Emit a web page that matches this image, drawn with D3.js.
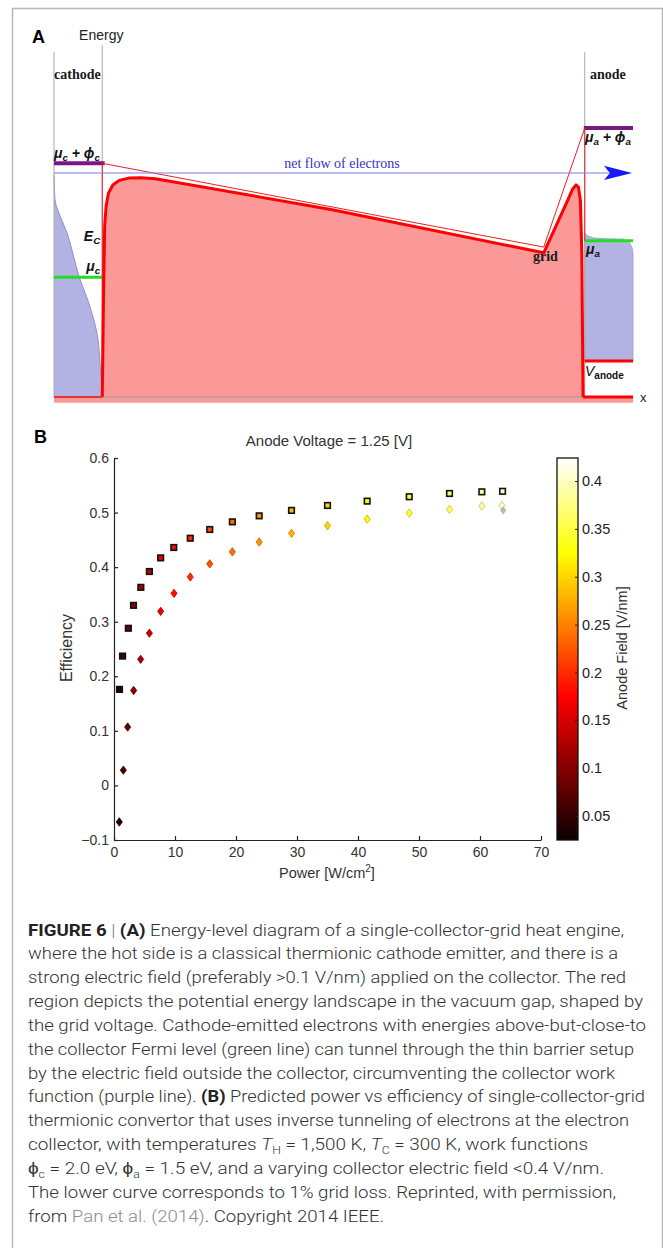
<!DOCTYPE html>
<html>
<head>
<meta charset="utf-8">
<script src="https://cdn.jsdelivr.net/npm/d3@7"></script>
<style>
body { margin: 0; background: #fff; }
svg { display: block; }
</style>
</head>
<body>
<svg width="663" height="1248"></svg>
<script>
// ---------- panel A: energy diagram (x in nm, E in eV) ----------
let barrierX = [0, 0.03, 0.05, 0.08, 0.13, 0.22, 0.35, 0.55, 0.8, 1.1, 4.74, 9.15, 9.65, 9.75, 9.82, 9.87, 9.91, 9.94, 9.965]
let barrierE = [0, 2.0, 3.0, 3.35, 3.58, 3.72, 3.8, 3.84, 3.845, 3.83, 3.29, 2.53, 3.46, 3.65, 3.72, 3.68, 3.45, 2.5, 0]

let fermiE = [3.89, 3.46, 3.19, 2.88, 2.49, 2.11, 1.70, 1.12, 0.53, 0]
let fermiF = [0, 0.02, 0.12, 0.27, 0.40, 0.52, 0.70, 0.89, 0.96, 1.0]

let anodeX = [10, 10, 10.05, 10.19, 10.5, 10.81, 10.93, 10.98, 11, 11]
let anodeE = [0.63, 2.88, 2.83, 2.79, 2.775, 2.77, 2.70, 2.62, 2.52, 0.63]

let muC = 2.1, phiC = 2.0
let muA = 2.74, phiA = 1.98
let vAnode = 0.63
let flowE = 3.93
let gridX = 9.15, gridE = 2.63

let surfaceX = [-1, 0, 10]
let surfaceTop = [6.05, 6.17, 6.05]

// ---------- panel B: efficiency vs power ----------
let fields = [0.04, 0.06, 0.08, 0.10, 0.12, 0.14, 0.16, 0.18, 0.20, 0.22, 0.24, 0.26, 0.28, 0.30, 0.32, 0.34, 0.36, 0.38, 0.40]
let powerSq = [0.9, 1.4, 2.35, 3.2, 4.4, 5.8, 7.65, 9.8, 12.5, 15.7, 19.4, 23.8, 29.1, 35.0, 41.5, 48.4, 55.0, 60.3, 63.7]
let effSq = [0.176, 0.237, 0.288, 0.330, 0.363, 0.392, 0.417, 0.436, 0.453, 0.469, 0.483, 0.494, 0.504, 0.513, 0.521, 0.529, 0.535, 0.538, 0.539]
let powerDi = [0.87, 1.53, 2.24, 3.22, 4.37, 5.8, 7.65, 9.84, 12.5, 15.7, 19.4, 23.8, 29.1, 35.0, 41.5, 48.4, 55.0, 60.3, 63.6]
let effDi = [-0.067, 0.028, 0.107, 0.174, 0.231, 0.279, 0.319, 0.352, 0.382, 0.406, 0.428, 0.446, 0.462, 0.476, 0.488, 0.499, 0.506, 0.512, 0.513]
let ghostPower = [63.8], ghostEff = [0.504]

let xTicks = [0, 10, 20, 30, 40, 50, 60, 70]
let yTicks = [-0.1, 0, 0.1, 0.2, 0.3, 0.4, 0.5, 0.6]
let cTicks = [0.05, 0.1, 0.15, 0.2, 0.25, 0.3, 0.35, 0.4]
let fieldRange = [0.025, 0.424]

// ---------- caption ----------
let caption = [
  [['FIGURE 6', 'b'], [' | ', 'sep'], ['(A)', 'b'], [' Energy-level diagram of a single-collector-grid heat engine,']],
  [['where the hot side is a classical thermionic cathode emitter, and there is a']],
  [['strong electric field (preferably >0.1 V/nm) applied on the collector. The red']],
  [['region depicts the potential energy landscape in the vacuum gap, shaped by']],
  [['the grid voltage. Cathode-emitted electrons with energies above-but-close-to']],
  [['the collector Fermi level (green line) can tunnel through the thin barrier setup']],
  [['by the electric field outside the collector, circumventing the collector work']],
  [['function (purple line). '], ['(B)', 'b'], [' Predicted power vs efficiency of single-collector-grid']],
  [['thermionic convertor that uses inverse tunneling of electrons at the electron']],
  [['collector, with temperatures '], ['T', 'i'], ['H', 'sub'], [' = 1,500 K, '], ['T', 'i'], ['C', 'sub'], [' = 300 K, work functions']],
  [['\u03d5'], ['c', 'sub'], [' = 2.0 eV, '], ['\u03d5'], ['a', 'sub'], [' = 1.5 eV, and a varying collector electric field <0.4 V/nm.']],
  [['The lower curve corresponds to 1% grid loss. Reprinted, with permission,']],
  [['from '], ['Pan et al. (2014)', 'link'], ['. Copyright 2014 IEEE.']]
]
let captionWidths = [596, 590, 598, 615, 618, 606, 587, 617, 601, 560, 576, 588, 356]

let svg = d3.select('svg')

svg.append('rect')
    .attr('x', 12.5).attr('y', 8.5)
    .attr('width', 650).attr('height', 1300)
    .attr('fill', 'none')
    .attr('stroke', '#b8b8b8')
    .attr('stroke-width', 1.5)

// ================= panel A =================
let xA = d3.scaleLinear().domain([-1, 11]).range([54, 633])
let yA = d3.scaleLinear().domain([0, 6]).range([397, 55])
let lineA = d3.line().x(d => xA(d[0])).y(d => yA(d[1]))
let gA = svg.append('g')

let pink = '#fb9898'
let lilac = '#b3b3e3'

// pink strip under axis + barrier region
gA.append('rect')
    .attr('x', xA(-1)).attr('y', yA(0))
    .attr('width', xA(11) - xA(-1)).attr('height', yA(-0.1) - yA(0))
    .attr('fill', pink)

let barrier = d3.zip(barrierX, barrierE)
gA.append('path')
    .attr('d', d3.area().x(d => xA(d[0])).y0(yA(0)).y1(d => yA(d[1]))(barrier))
    .attr('fill', pink)

// cathode occupation
let fermi = d3.zip(fermiF, fermiE)
gA.append('path')
    .attr('d', d3.area().curve(d3.curveMonotoneY)
        .y(d => yA(d[1])).x0(xA(-1)).x1(d => xA(-1 + d[0]))(fermi))
    .attr('fill', lilac)
gA.append('path')
    .attr('d', d3.line().curve(d3.curveMonotoneY)
        .y(d => yA(d[1])).x(d => xA(-1 + d[0]))(fermi))
    .attr('fill', 'none').attr('stroke', '#8f8fc4').attr('stroke-width', 1)

// anode occupation
gA.append('path')
    .attr('d', lineA(d3.zip(anodeX, anodeE)) + 'Z')
    .attr('fill', lilac)
    .attr('stroke', '#9a9acb').attr('stroke-width', 0.8)

// grey surface lines and axis
surfaceX.forEach((sx, i) => {
    gA.append('line')
        .attr('x1', xA(sx)).attr('x2', xA(sx))
        .attr('y1', yA(0)).attr('y2', yA(surfaceTop[i]))
        .attr('stroke', '#a8a8a8').attr('stroke-width', 1)
})
gA.append('line')
    .attr('x1', xA(0)).attr('x2', xA(10))
    .attr('y1', yA(0)).attr('y2', yA(0))
    .attr('stroke', '#999').attr('stroke-width', 1)

// fermi levels
gA.append('path').attr('d', lineA([[-1, muC], [0.04, muC]]))
    .attr('stroke', '#22dd22').attr('stroke-width', 3)
gA.append('path').attr('d', lineA([[10, muA], [11, muA]]))
    .attr('stroke', '#22dd22').attr('stroke-width', 3)

// work function levels
gA.append('path').attr('d', lineA([[-1, muC + phiC], [0.05, muC + phiC]]))
    .attr('stroke', '#7b1785').attr('stroke-width', 4)
gA.append('path').attr('d', lineA([[9.98, muA + phiA], [11, muA + phiA]]))
    .attr('stroke', '#7b1785').attr('stroke-width', 4)

// ideal barrier (thin)
gA.append('path')
    .attr('d', lineA([[0, 0], [0, muC + phiC], [gridX, gridE], [10, muA + phiA], [10, muA]]))
    .attr('fill', 'none').attr('stroke', '#e82020').attr('stroke-width', 1)

// actual barrier (thick)
gA.append('path')
    .attr('d', lineA(barrier))
    .attr('fill', 'none').attr('stroke', '#ff0000').attr('stroke-width', 3)
    .attr('stroke-linejoin', 'round')

// bottom red lines
gA.append('path').attr('d', lineA([[-1, 0], [0, 0]]))
    .attr('stroke', '#e03535').attr('stroke-width', 2)
gA.append('path').attr('d', lineA([[9.965, 0], [11, 0]]))
    .attr('stroke', '#ff0000').attr('stroke-width', 3)
gA.append('path').attr('d', lineA([[10, vAnode], [11, vAnode]]))
    .attr('stroke', '#ff0000').attr('stroke-width', 3)

// net flow arrow
gA.append('path').attr('d', lineA([[-1, flowE], [10.5, flowE]]))
    .attr('stroke', '#7c7cf0').attr('stroke-width', 1)
gA.append('path')
    .attr('d', lineA([[10.98, flowE], [10.4, flowE + 0.125], [10.52, flowE], [10.4, flowE - 0.125]]) + 'Z')
    .attr('fill', '#1818ff')

// panel A labels
let serif = '"Liberation Serif", "DejaVu Serif", serif'
let sans = '"Liberation Sans", Arial, sans-serif'

svg.append('text').attr('x', 32).attr('y', 43).text('A')
    .attr('font-family', sans).attr('font-weight', 'bold').attr('font-size', 18)
svg.append('text').attr('x', xA(0) - 1).attr('y', 40).text('Energy')
    .attr('text-anchor', 'middle').attr('font-family', sans).attr('font-size', 14).attr('fill', '#222')

let boldSerif = (x, y, t, anchor) => svg.append('text').attr('x', x).attr('y', y).text(t)
    .attr('text-anchor', anchor || 'start')
    .attr('font-family', serif).attr('font-weight', 'bold').attr('font-size', 14).attr('fill', '#1a1a1a')
boldSerif(xA(-1), 79, 'cathode')
boldSerif(590, 79, 'anode')
boldSerif(533, 261, 'grid')

let symLabel = (x, y, parts, anchor, size) => {
    let fs = size || 13
    let t = svg.append('text').attr('x', x).attr('y', y)
        .attr('text-anchor', anchor || 'start')
        .attr('font-family', sans).attr('font-weight', 'bold').attr('font-style', 'italic')
        .attr('font-size', fs).attr('fill', '#111')
    parts.forEach(p => {
        let s = t.append('tspan').text(p[0])
        if (p[1] === 'sub') s.attr('font-size', fs * 0.7).attr('dy', 3)
        if (p[1] === 'up') s.attr('dy', -3)
    })
    return t
}
symLabel(xA(-1), yA(muC + phiC) - 5, [['\u03bc'], ['c', 'sub'], [' + \u03d5', 'up'], ['c', 'sub']], 'start', 14)
symLabel(585, yA(muA + phiA) + 14, [['\u03bc'], ['a', 'sub'], [' + \u03d5', 'up'], ['a', 'sub']], 'start', 14)
symLabel(xA(0) - 2, 241, [['E'], ['C', 'sub']], 'end', 14)
symLabel(xA(0) - 2, yA(muC) - 6, [['\u03bc'], ['c', 'sub']], 'end', 14)
symLabel(586, yA(muA) + 13, [['\u03bc'], ['a', 'sub']], 'start', 14)

let va = svg.append('text').attr('x', 585).attr('y', 376)
    .attr('font-family', sans).attr('fill', '#111')
va.append('tspan').text('V').attr('font-style', 'italic').attr('font-size', 14)
va.append('tspan').text('anode').attr('font-weight', 'bold').attr('font-size', 10).attr('dy', 3)

svg.append('text').attr('x', 640).attr('y', 402).text('x')
    .attr('font-family', sans).attr('font-size', 13).attr('fill', '#222')

svg.append('text').attr('x', 342).attr('y', 168).text('net flow of electrons')
    .attr('text-anchor', 'middle').attr('font-family', serif).attr('font-size', 14).attr('fill', '#3434c8')

// ================= panel B =================
let xB = d3.scaleLinear().domain([0, 70]).range([114, 541])
let yB = d3.scaleLinear().domain([-0.1, 0.6]).range([840, 458])
let cB = d3.scaleLinear().domain(fieldRange).range([840, 458])
let hotStops = [0, 0.375, 0.75, 1]
let hotColors = ['#0b0000', '#ff0000', '#ffff00', '#ffffff']
let hot = d3.scaleLinear()
    .domain(hotStops.map(t => fieldRange[0] + t * (fieldRange[1] - fieldRange[0])))
    .range(hotColors)

svg.append('text').attr('x', 34).attr('y', 443).text('B')
    .attr('font-family', sans).attr('font-weight', 'bold').attr('font-size', 18)

svg.append('text').attr('x', 329).attr('y', 445.5).text('Anode Voltage = 1.25 [V]')
    .attr('text-anchor', 'middle').attr('font-family', sans).attr('font-size', 15).attr('fill', '#333')

let fmt = d => d === 0 ? '0' : d3.format('.1f')(d)
let gx = svg.append('g').attr('transform', 'translate(0,840)')
    .call(d3.axisBottom(xB).tickValues(xTicks).tickSize(-4).tickSizeOuter(0).tickPadding(7))
let gy = svg.append('g').attr('transform', 'translate(114,0)')
    .call(d3.axisLeft(yB).tickValues(yTicks).tickFormat(fmt).tickSize(-4).tickSizeOuter(0).tickPadding(5))
;[gx, gy].forEach(g => {
    g.selectAll('path, line').attr('stroke', '#222').attr('stroke-width', 1.2)
    g.selectAll('text').attr('font-family', sans).attr('font-size', 14).attr('fill', '#333')
})

svg.append('text')
    .attr('transform', 'translate(72,648) rotate(-90)')
    .attr('text-anchor', 'middle').text('Efficiency')
    .attr('font-family', sans).attr('font-size', 16).attr('fill', '#333')

let xl = svg.append('text').attr('x', 327).attr('y', 878)
    .attr('text-anchor', 'middle').attr('font-family', sans).attr('font-size', 14.5).attr('fill', '#333')
xl.append('tspan').text('Power [W/cm')
xl.append('tspan').text('2').attr('font-size', 10).attr('dy', -6)
xl.append('tspan').text(']').attr('dy', 6)

// diamonds (lower curve, 1% grid loss)
let diamond = 'M0,-4.2L3.1,0L0,4.2L-3.1,0Z'
svg.append('g').selectAll('path')
    .data(d3.zip(powerDi, effDi, fields))
    .enter()
    .append('path')
    .attr('d', diamond)
    .attr('transform', d => 'translate(' + xB(d[0]) + ',' + yB(d[1]) + ')')
    .attr('fill', d => hot(d[2]))
    .attr('stroke', d => d3.color(hot(d[2])).darker(0.8))
    .attr('stroke-width', 0.8)
svg.append('g').selectAll('path')
    .data(d3.zip(ghostPower, ghostEff))
    .enter()
    .append('path')
    .attr('d', diamond)
    .attr('transform', d => 'translate(' + xB(d[0]) + ',' + yB(d[1]) + ')')
    .attr('fill', '#a8a8a0').attr('opacity', 0.8)

// squares (upper curve)
svg.append('g').selectAll('rect')
    .data(d3.zip(powerSq, effSq, fields))
    .enter()
    .append('rect')
    .attr('x', d => xB(d[0]) - 2.8)
    .attr('y', d => yB(d[1]) - 2.8)
    .attr('width', 5.6).attr('height', 5.6)
    .attr('fill', d => hot(d[2]))
    .attr('stroke', '#111').attr('stroke-width', 1.6)

// colour bar
let grad = svg.append('defs').append('linearGradient')
    .attr('id', 'hot').attr('x1', 0).attr('y1', 1).attr('x2', 0).attr('y2', 0)
grad.selectAll('stop')
    .data(hotStops)
    .enter()
    .append('stop')
    .attr('offset', d => d)
    .attr('stop-color', (d, i) => hotColors[i])

svg.append('rect')
    .attr('x', 557).attr('y', cB(fieldRange[1]))
    .attr('width', 21).attr('height', cB(fieldRange[0]) - cB(fieldRange[1]))
    .attr('fill', 'url(#hot)')
    .attr('stroke', '#111').attr('stroke-width', 1.3)

let gc = svg.append('g').attr('transform', 'translate(578,0)')
    .call(d3.axisRight(cB).tickValues(cTicks).tickFormat(d3.format('~g')).tickSize(-3).tickSizeOuter(0).tickPadding(4))
gc.select('.domain').remove()
gc.selectAll('line').attr('stroke', '#222').attr('stroke-width', 1)
gc.selectAll('text').attr('font-family', sans).attr('font-size', 14.5).attr('fill', '#222')

svg.append('text')
    .attr('transform', 'translate(627,648) rotate(-90)')
    .attr('text-anchor', 'middle').text('Anode Field [V/nm]')
    .attr('font-family', sans).attr('font-size', 14.5).attr('fill', '#333')

// ================= caption =================
let gCap = svg.append('g')
caption.forEach((parts, i) => {
    let t = gCap.append('text')
        .attr('x', 28).attr('y', 935.5 + i * 23.85)
        .attr('font-family', 'Roboto, "Liberation Sans", sans-serif').attr('font-weight', 300)
        .attr('font-size', 17).attr('fill', '#333')
        .attr('textLength', captionWidths[i]).attr('lengthAdjust', 'spacingAndGlyphs')
    let shifted = false
    parts.forEach(p => {
        let s = t.append('tspan').text(p[0])
        if (shifted) { s.attr('dy', -4); shifted = false }
        if (p[1] === 'b') s.attr('font-weight', 'bold').attr('fill', '#222')
        if (p[1] === 'i') s.attr('font-style', 'italic')
        if (p[1] === 'sep') s.attr('fill', '#777')
        if (p[1] === 'link') s.attr('fill', '#8c8c8c')
        if (p[1] === 'sub') { s.attr('font-size', 11).attr('dy', 4); shifted = true }
    })
})
</script>
</body>
</html>
